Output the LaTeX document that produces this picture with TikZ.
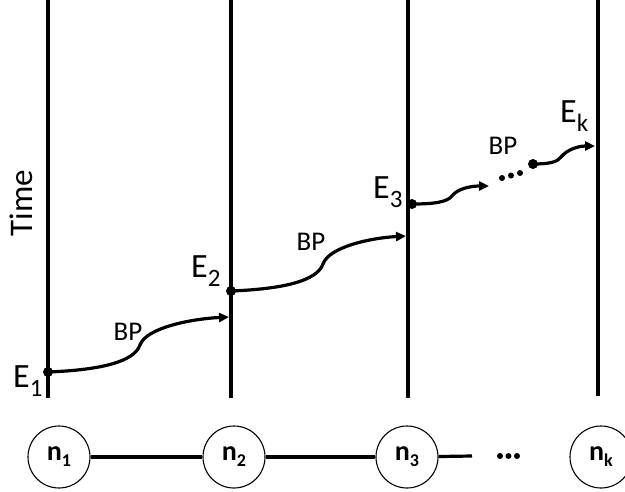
\documentclass[tikz,border=0pt]{standalone}
\usepackage{fontspec}
\setmainfont{Carlito}
\usetikzlibrary{arrows.meta}
\newcommand{\Elab}[1]{\fontsize{34}{34}\selectfont E\raisebox{-9pt}{\fontsize{25}{25}\selectfont #1}}
\newcommand{\Nlab}[1]{\fontsize{28}{28}\selectfont\bfseries n\raisebox{-6pt}{\fontsize{18}{18}\selectfont #1}}
\tikzset{
  timeline/.style={line width=3.2pt},
  proc/.style={circle, draw, line width=1.1pt, minimum size=62pt, inner sep=0pt},
  link/.style={line width=3.2pt},
  msg/.style={line width=3.2pt, -{Triangle[length=10pt,width=9pt]}},
  evt/.style={circle, fill=black, inner sep=0pt, minimum size=10pt},
  dotc/.style={circle, fill=black, inner sep=0pt, minimum size=6pt},
  bplab/.style={font=\fontsize{27}{27}\selectfont, anchor=base, inner sep=0pt},
  elab/.style={anchor=base west, inner sep=0pt},
}
\begin{document}
\begin{tikzpicture}[x=1pt,y=-1pt]
\useasboundingbox (0,0) rectangle (625,491);
% time lines
\coordinate (t1) at (48,0);  \coordinate (b1) at (48,398);
\coordinate (t2) at (231,0); \coordinate (b2) at (231,398);
\coordinate (t3) at (408,0); \coordinate (b3) at (408,398);
\coordinate (tk) at (598,0); \coordinate (bk) at (598,396);
\draw[timeline] (t1) -- (b1);
\draw[timeline] (t2) -- (b2);
\draw[timeline] (t3) -- (b3);
\draw[timeline] (tk) -- (bk);
% time label
\node[rotate=90, anchor=base, inner sep=0pt, font=\fontsize{33}{33}\selectfont] (time) at (32,203) {Time};
% events
\node[evt] (e1) at (48,372) {};
\node[evt] (e2) at (231,291) {};
\node[evt] (e3) at (412,204) {};
\node[evt] (ek) at (533,164) {};
\coordinate (a1) at (229,317);
\coordinate (a2) at (406,236);
\coordinate (a3) at (489,186);
\coordinate (ak) at (595,146);
\draw[msg] (e1.center) .. controls (100,370) and (134,362) .. (140,345) .. controls (146,328) and (190,319) .. (a1);
\draw[msg] (e2.center) .. controls (283,289) and (317,281) .. (323,264) .. controls (329,247) and (370,238) .. (a2);
\draw[msg] (e3.center) .. controls (435,204) and (447,202) .. (452,196) .. controls (457,189) and (470,186) .. (a3);
\draw[msg] (ek.center) .. controls (550,164) and (558,162) .. (562,156) .. controls (567,150) and (578,146) .. (ak);
% dots between
\node[dotc] (d1) at (502,178) {};
\node[dotc] (d2) at (511,175.5) {};
\node[dotc] (d3) at (520,173) {};
% labels
\node[elab] (l1) at (13,387) {\Elab{1}};
\node[elab] (l2) at (191,277) {\Elab{2}};
\node[elab] (l3) at (373,198) {\Elab{3}};
\node[elab] (lk) at (560,122) {\Elab{k}};
\node[bplab] (bp1) at (128,340) {BP};
\node[bplab] (bp2) at (311,250) {BP};
\node[bplab] (bp3) at (503,154) {BP};
% processes
\node[proc] (n1) at (59,457) {\Nlab{1}};
\node[proc] (n2) at (234,457) {\Nlab{2}};
\node[proc] (n3) at (407,457) {\Nlab{3}};
\node[proc] (nk) at (601,457) {\Nlab{k}};
\coordinate (n3r) at (472,456);
\draw[link] (n1) -- (n2);
\draw[link] (n2) -- (n3);
\draw[link] (n3) -- (n3r);
\node[dotc] (bd1) at (500,456) {};
\node[dotc] (bd2) at (508.5,456) {};
\node[dotc] (bd3) at (517,456) {};
\end{tikzpicture}
\end{document}
